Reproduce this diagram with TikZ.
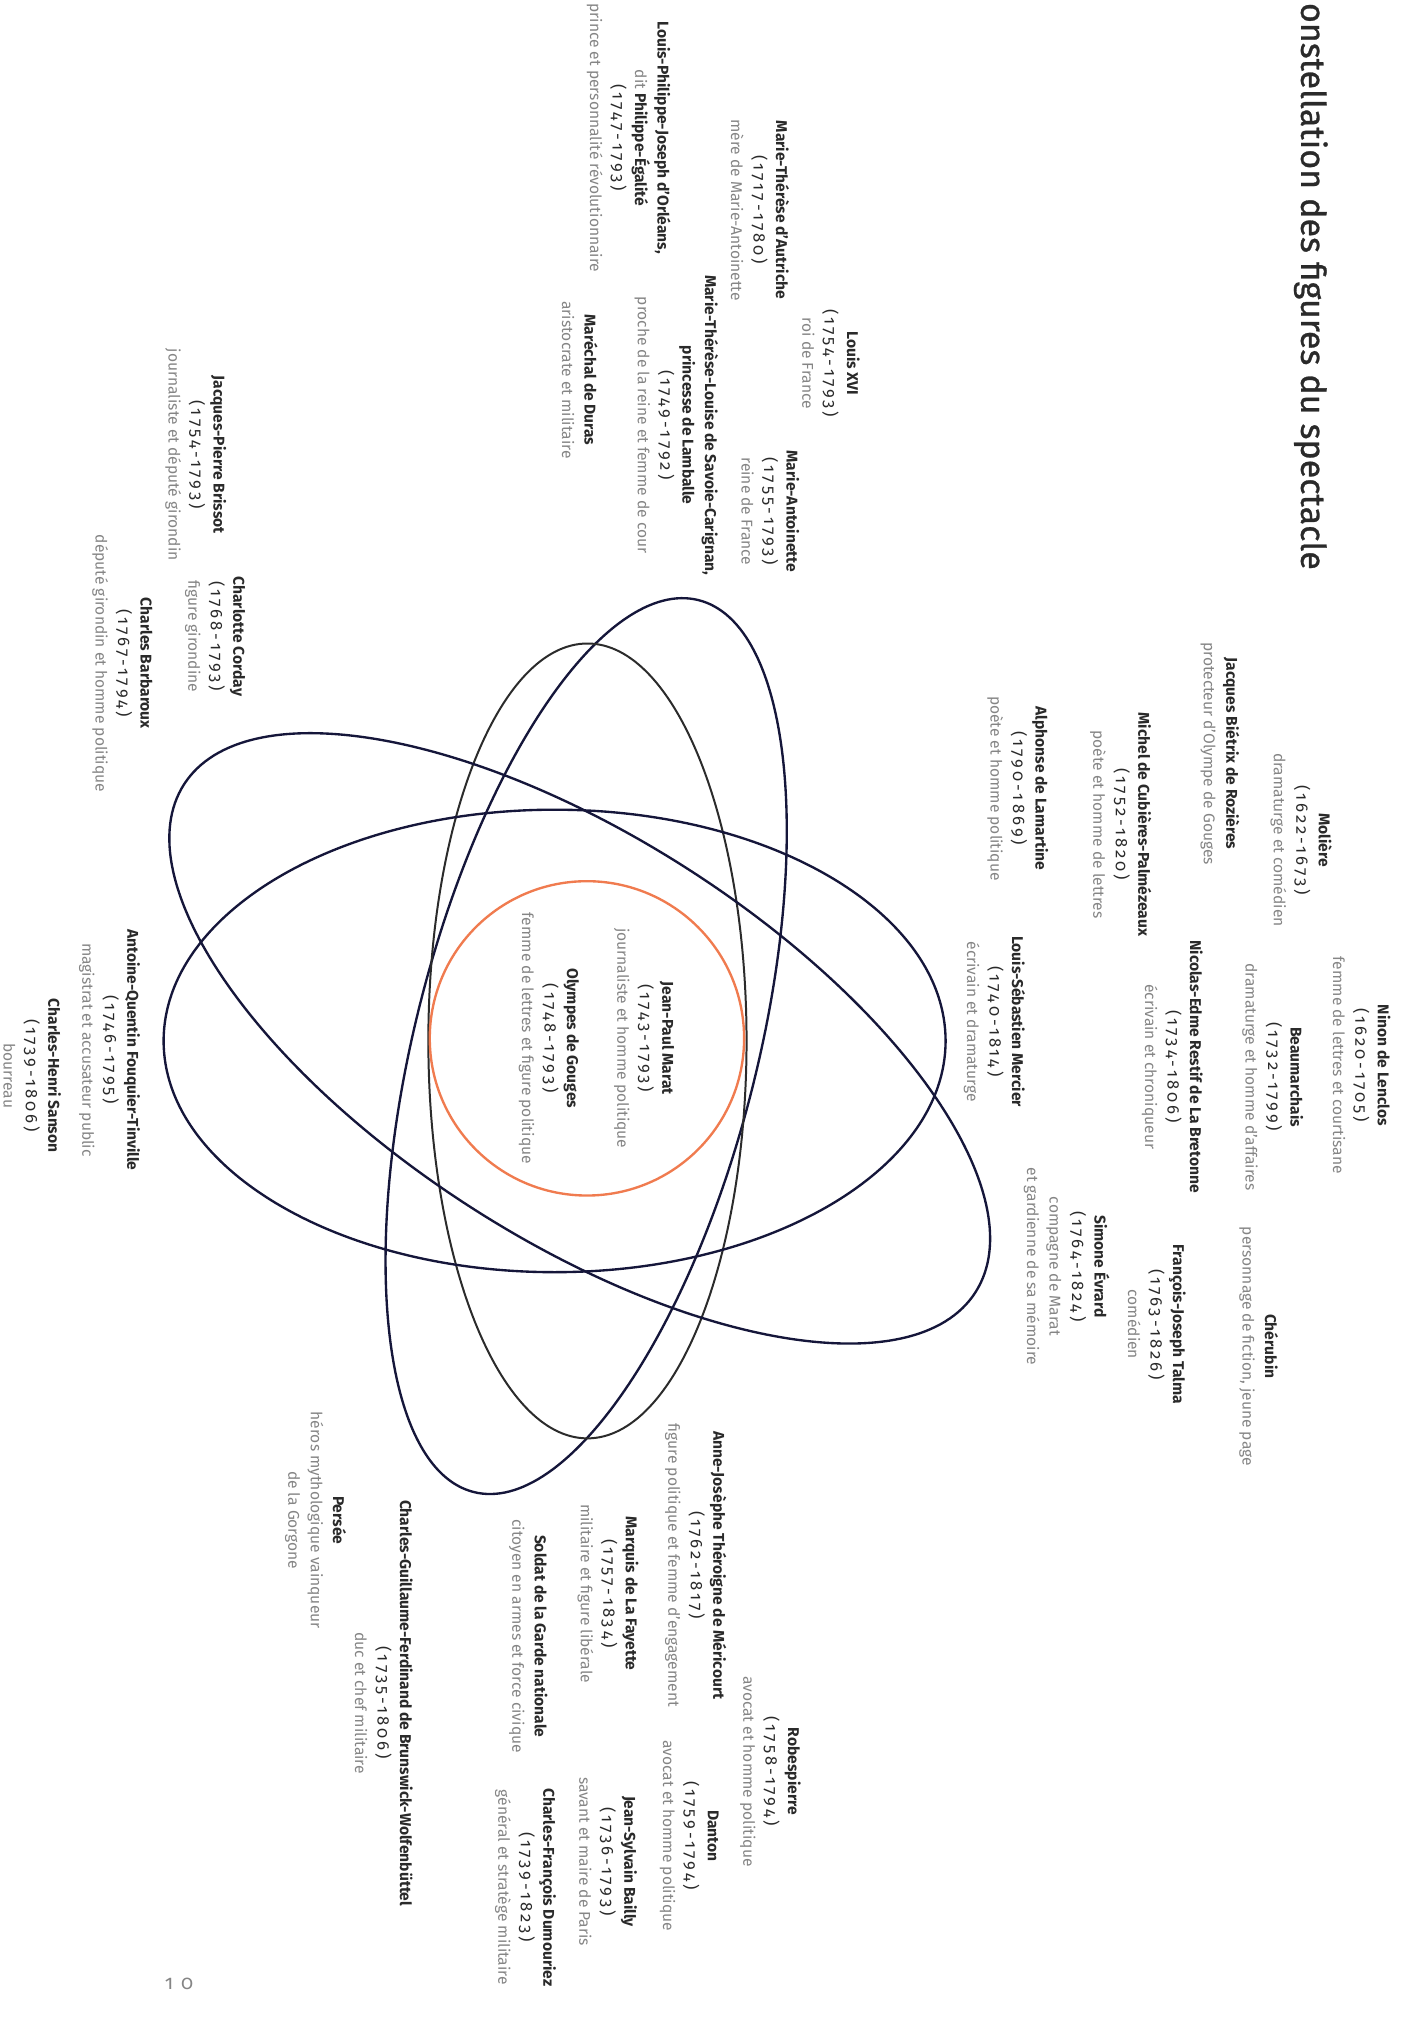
\documentclass[tikz,border=0pt]{standalone}
\usepackage{fontspec}
\setmainfont{Fira Sans}[Numbers=OldStyle]
\usepackage{tikz}
\usetikzlibrary{positioning}
\definecolor{inkname}{HTML}{2A2A2A}
\definecolor{inkdesc}{HTML}{858585}
\definecolor{orbitnavy}{HTML}{15163A}
\definecolor{orbitdark}{HTML}{2B2B2B}
\definecolor{sunorange}{HTML}{F07B4F}
\tikzset{fig/.style={rotate=-90, align=center, inner sep=0pt, text=inkname, font=\fontsize{8.6}{12.4}\selectfont}}
\tikzset{orbit/.style={draw=orbitnavy, line width=1.3pt}}
\newcommand{\nm}[1]{\textbf{#1}}
\newcommand{\ds}[1]{\textcolor{inkdesc}{#1}}
\newcommand{\dt}[1]{{\fontsize{9.2}{12.4}\selectfont\addfontfeatures{LetterSpace=18}#1}}

\begin{document}
\begin{tikzpicture}[x=0.025cm,y=-0.025cm]
\useasboundingbox[fill=white] (0,0) rectangle (1087,1568);

\node[rotate=-90, anchor=base west, inner sep=0pt, text=inkname, font=\fontsize{18.8}{21}\selectfont\addfontfeatures{FakeBold=0.8}] (title) at (1010,2) {onstellation des figures du spectacle};

% orbites
\draw[orbit, rotate around={-14.15:(455,812)}] (455,812) ellipse (133 and 357);
\draw[orbit, draw=orbitdark, line width=1.1pt] (456,808) ellipse (123.5 and 308.5);
\draw[orbit, rotate around={-32.7:(450,806)}] (450,806) ellipse (365 and 156);
\draw[orbit] (430.5,808) ellipse (303.5 and 179.5);
\draw[draw=sunorange, line width=1.3pt] (455.6,806) circle (122);

% centre
\node[fig] (marat) at (500,806) {\nm{Jean-Paul Marat}\\\dt{(1743-1793)}\\\ds{journaliste et homme politique}};
\node[fig] (gouges) at (426,806) {\nm{Olympes de Gouges}\\\dt{(1748-1793)}\\\ds{femme de lettres et figure politique}};

% cour
\node[fig] (louis) at (645,282) {\nm{Louis XVI}\\\dt{(1754-1793)}\\\ds{roi de France}};
\node[fig] (autriche) at (590,163) {\nm{Marie-Thérèse d’Autriche}\\\dt{(1717-1780)}\\\ds{mère de Marie-Antoinette}};
\node[fig] (antoinette) at (598,397) {\nm{Marie-Antoinette}\\\dt{(1755-1793)}\\\ds{reine de France}};
\node[fig] (orleans) at (488,107) {\nm{Louis-Philippe-Joseph d’Orléans,}\\\ds{dit} \nm{Philippe-Égalité}\\\dt{(1747-1793)}\\\ds{prince et personnalité révolutionnaire}};
\node[fig] (lamballe) at (525,330) {\nm{Marie-Thérèse-Louise de Savoie-Carignan,}\\\nm{princesse de Lamballe}\\\dt{(1749-1792)}\\\ds{proche de la reine et femme de cour}};
\node[fig] (duras) at (450,295) {\nm{Maréchal de Duras}\\\ds{aristocrate et militaire}};

% girondins
\node[fig] (brissot) at (152,353) {\nm{Jacques-Pierre Brissot}\\\dt{(1754-1793)}\\\ds{journaliste et député girondin}};
\node[fig] (corday) at (167,494) {\nm{Charlotte Corday}\\\dt{(1768-1793)}\\\ds{figure girondine}};
\node[fig] (barbaroux) at (95,515) {\nm{Charles Barbaroux}\\\dt{(1767-1794)}\\\ds{député girondin et homme politique}};

% lettres et theatre
\node[fig] (moliere) at (1010,652) {\nm{Molière}\\\dt{(1622-1673)}\\\ds{dramaturge et comédien}};
\node[fig] (rozieres) at (947,585) {\nm{Jacques Biétrix de Rozières}\\\ds{protecteur d’Olympe de Gouges}};
\node[fig] (cubieres) at (870,640) {\nm{Michel de Cubières-Palmézeaux}\\\dt{(1752-1820)}\\\ds{poète et homme de lettres}};
\node[fig] (lamartine) at (790,612) {\nm{Alphonse de Lamartine}\\\dt{(1790-1869)}\\\ds{poète et homme politique}};
\node[fig] (ninon) at (1057,827) {\nm{Ninon de Lenclos}\\\dt{(1620-1705)}\\\ds{femme de lettres et courtisane}};
\node[fig] (beaumarchais) at (988,836) {\nm{Beaumarchais}\\\dt{(1732-1799)}\\\ds{dramaturge et homme d’affaires}};
\node[fig] (restif) at (910,828) {\nm{Nicolas-Edme Restif de La Bretonne}\\\dt{(1734-1806)}\\\ds{écrivain et chroniqueur}};
\node[fig] (mercier) at (772,793) {\nm{Louis-Sébastien Mercier}\\\dt{(1740-1814)}\\\ds{écrivain et dramaturge}};
\node[fig] (cherubin) at (977,1045) {\nm{Chérubin}\\\ds{personnage de fiction, jeune page}};
\node[fig] (talma) at (898,1028) {\nm{François-Joseph Talma}\\\dt{(1763-1826)}\\\ds{comédien}};
\node[fig] (evrard) at (828,983) {\nm{Simone Évrard}\\\dt{(1764-1824)}\\\ds{compagne de Marat}\\\ds{et gardienne de sa mémoire}};

% revolution
\node[fig] (robespierre) at (598,1375) {\nm{Robespierre}\\\dt{(1758-1794)}\\\ds{avocat et homme politique}};
\node[fig] (theroigne) at (540,1215) {\nm{Anne-Josèphe Théroigne de Méricourt}\\\dt{(1762-1817)}\\\ds{figure politique et femme d’engagement}};
\node[fig] (danton) at (535,1425) {\nm{Danton}\\\dt{(1759-1794)}\\\ds{avocat et homme politique}};
\node[fig] (lafayette) at (472,1237) {\nm{Marquis de La Fayette}\\\dt{(1757-1834)}\\\ds{militaire et figure libérale}};
\node[fig] (bailly) at (472,1445) {\nm{Jean-Sylvain Bailly}\\\dt{(1736-1793)}\\\ds{savant et maire de Paris}};
\node[fig] (soldat) at (410,1270) {\nm{Soldat de la Garde nationale}\\\ds{citoyen en armes et force civique}};
\node[fig] (dumouriez) at (408,1465) {\nm{Charles-François Dumouriez}\\\dt{(1739-1823)}\\\ds{général et stratège militaire}};
\node[fig] (brunswick) at (298,1322) {\nm{Charles-Guillaume-Ferdinand de Brunswick-Wolfenbüttel}\\\dt{(1735-1806)}\\\ds{duc et chef militaire}};
\node[fig] (persee) at (245,1180) {\nm{Persée}\\\ds{héros mythologique vainqueur}\\\ds{de la Gorgone}};

% justice
\node[fig] (fouquier) at (85,815) {\nm{Antoine-Quentin Fouquier-Tinville}\\\dt{(1746-1795)}\\\ds{magistrat et accusateur public}};
\node[fig] (sanson) at (25,835) {\nm{Charles-Henri Sanson}\\\dt{(1739-1806)}\\\ds{bourreau}};

\node[text=inkdesc, inner sep=0pt, font=\fontsize{11}{12}\selectfont\addfontfeatures{LetterSpace=40}] (folio) at (139,1540) {10};
\end{tikzpicture}
\end{document}
